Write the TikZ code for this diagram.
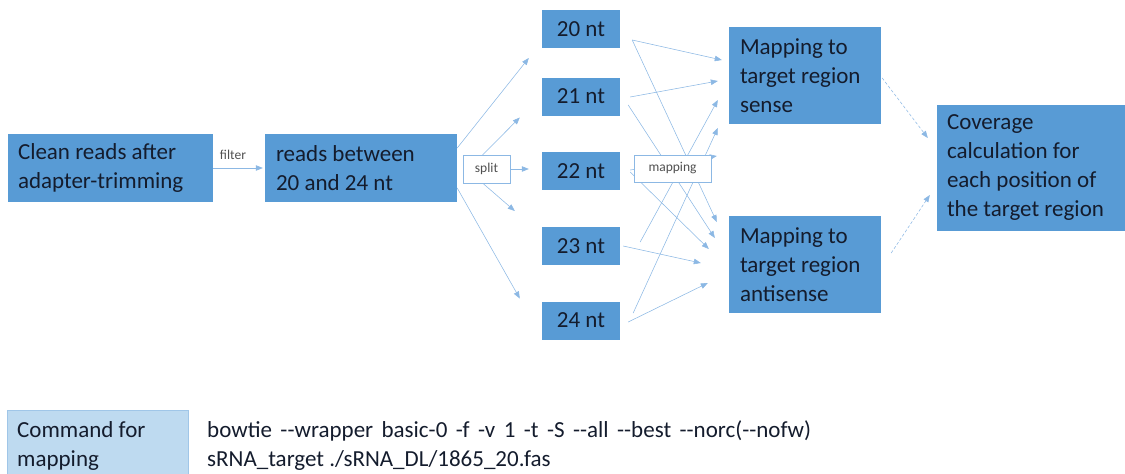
\documentclass[tikz,border=0pt]{standalone}
\usepackage{fontspec}
\setmainfont{Carlito}
\usetikzlibrary{arrows.meta,calc}
\definecolor{boxblue}{RGB}{88,155,213}
\definecolor{txtdark}{RGB}{20,28,45}
\definecolor{arrblue}{RGB}{140,184,228}
\definecolor{cmdfill}{RGB}{190,218,240}
\definecolor{cmdline}{RGB}{160,198,232}
\definecolor{lblgray}{RGB}{80,80,80}
\newcommand{\dd}{-{}-}
\begin{document}
\begin{tikzpicture}[x=1pt,y=-1pt,
 box/.style={fill=boxblue, draw=none, inner sep=0pt},
 txt/.style={text=txtdark, font=\fontsize{23}{29}\selectfont, align=left, inner sep=0pt, anchor=west},
 ntbox/.style={box, minimum width=78pt, minimum height=38pt, text=txtdark, font=\fontsize{23}{29}\selectfont},
 small/.style={text=lblgray, font=\fontsize{13.5}{16}\selectfont},
 wbox/.style={draw=arrblue, fill=white, line width=0.8pt, inner sep=0pt, small},
 arr/.style={draw=arrblue, line width=0.55pt, -{Triangle[length=7pt,width=5.5pt]}},
 darr/.style={arr, dash pattern=on 3pt off 2pt}
]
\useasboundingbox (0,0) rectangle (1125,474);

% main boxes
\node[box, minimum width=205pt, minimum height=68pt] (clean) at (110.5,168) {};
\node[txt] (cleant) at ($(clean.west)+(10,0)$) {Clean reads after\\adapter-trimming};
\node[box, minimum width=192pt, minimum height=68pt] (betw) at (361,168) {};
\node[txt] (betwt) at ($(betw.west)+(11,0)$) {reads between\\20 and 24 nt};

\node[ntbox] (n20) at (581,29) {20 nt};
\node[ntbox] (n21) at (581,96.5) {21 nt};
\node[ntbox] (n22) at (581,171) {22 nt};
\node[ntbox] (n23) at (581,246) {23 nt};
\node[ntbox] (n24) at (581,320.5) {24 nt};

\node[box, minimum width=152pt, minimum height=97pt] (sense) at (805,75.5) {};
\node[txt] (senset) at ($(sense.west)+(11,0)$) {Mapping to\\target region\\sense};
\node[box, minimum width=152pt, minimum height=97pt] (anti) at (805,264.5) {};
\node[txt] (antit) at ($(anti.west)+(11,0)$) {Mapping to\\target region\\antisense};
\node[box, minimum width=188pt, minimum height=126pt] (cov) at (1031,168) {};
\node[txt] (covt) at ($(cov.west)+(10,0)$) {Coverage\\calculation for\\each position of\\the target region};

% filter
\draw[arr] (clean.east) -- ($(betw.west)+(-2,0)$);
\node[small] (filt) at (233,155) {filter};

% split arrows
\coordinate (splitc) at (486.5,169);
\draw[arr] ($(betw.east)+(0,-20)$) -- ($(n20.west)+(-13,29)$);
\draw[arr] ($(splitc)+(-4,-14)$) -- ($(n21.west)+(-22,21)$);
\draw[arr] ($(splitc)+(23.5,0)$) -- ($(n22.west)+(-13,-2)$);
\draw[arr] ($(splitc)+(-4,14)$) -- ($(n23.west)+(-27,-35)$);
\draw[arr] ($(betw.east)+(0,20)$) -- ($(n24.west)+(-22,-22)$);
\node[wbox, minimum width=47pt, minimum height=28pt] (split) at (splitc) {split};

% mapping arrows
\draw[arr] ($(n20.east)+(12,11)$) -- ($(sense.west)+(-7,-15.5)$);
\draw[arr] ($(n20.east)+(12,11)$) -- ($(anti.west)+(-12,-42.5)$);
\draw[arr] ($(n21.east)+(10,0.5)$) -- ($(sense.west)+(-11,5.5)$);
\draw[arr] ($(n21.east)+(8,8.5)$) -- ($(anti.west)+(-14,-26.5)$);
\draw[arr] ($(n22.east)+(10,-1)$) -- ($(sense.west)+(-12,80.5)$);
\draw[arr] ($(n22.east)+(10,1)$) -- ($(anti.west)+(-20,-15.5)$);
\draw[arr] ($(n23.east)+(20,-4)$) -- ($(sense.west)+(-11,24.5)$);
\draw[arr] ($(n23.east)+(3,0)$) -- ($(anti.west)+(-28,-1.5)$);
\draw[arr] ($(n24.east)+(13,-7.5)$) -- ($(sense.west)+(-11,52.5)$);
\draw[arr] ($(n24.east)+(8,1.5)$) -- ($(anti.west)+(-21,18.5)$);
\node[wbox, minimum width=77pt, minimum height=27pt] (mapb) at (672.5,168.5) {mapping};

% to coverage
\draw[darr] ($(sense.east)+(1,2.5)$) -- ($(cov.west)+(-9,-30)$);
\draw[darr] ($(anti.east)+(10,-11.5)$) -- ($(cov.west)+(-7,27)$);

% command
\node[fill=cmdfill, draw=cmdline, line width=0.6pt, minimum width=181pt, minimum height=72pt, inner sep=0pt] (cmdbox) at (97.5,446) {};
\node[txt] (cmdt) at (17,446) {Command for\\mapping};
\node[txt] (cmdl) at (207,446) {\makebox[604pt][s]{bowtie \dd wrapper basic-0 -f -v 1 -t -S \dd all \dd best \dd norc(\dd nofw)}\\sRNA\_target ./sRNA\_DL/1865\_20.fas};
\end{tikzpicture}
\end{document}
